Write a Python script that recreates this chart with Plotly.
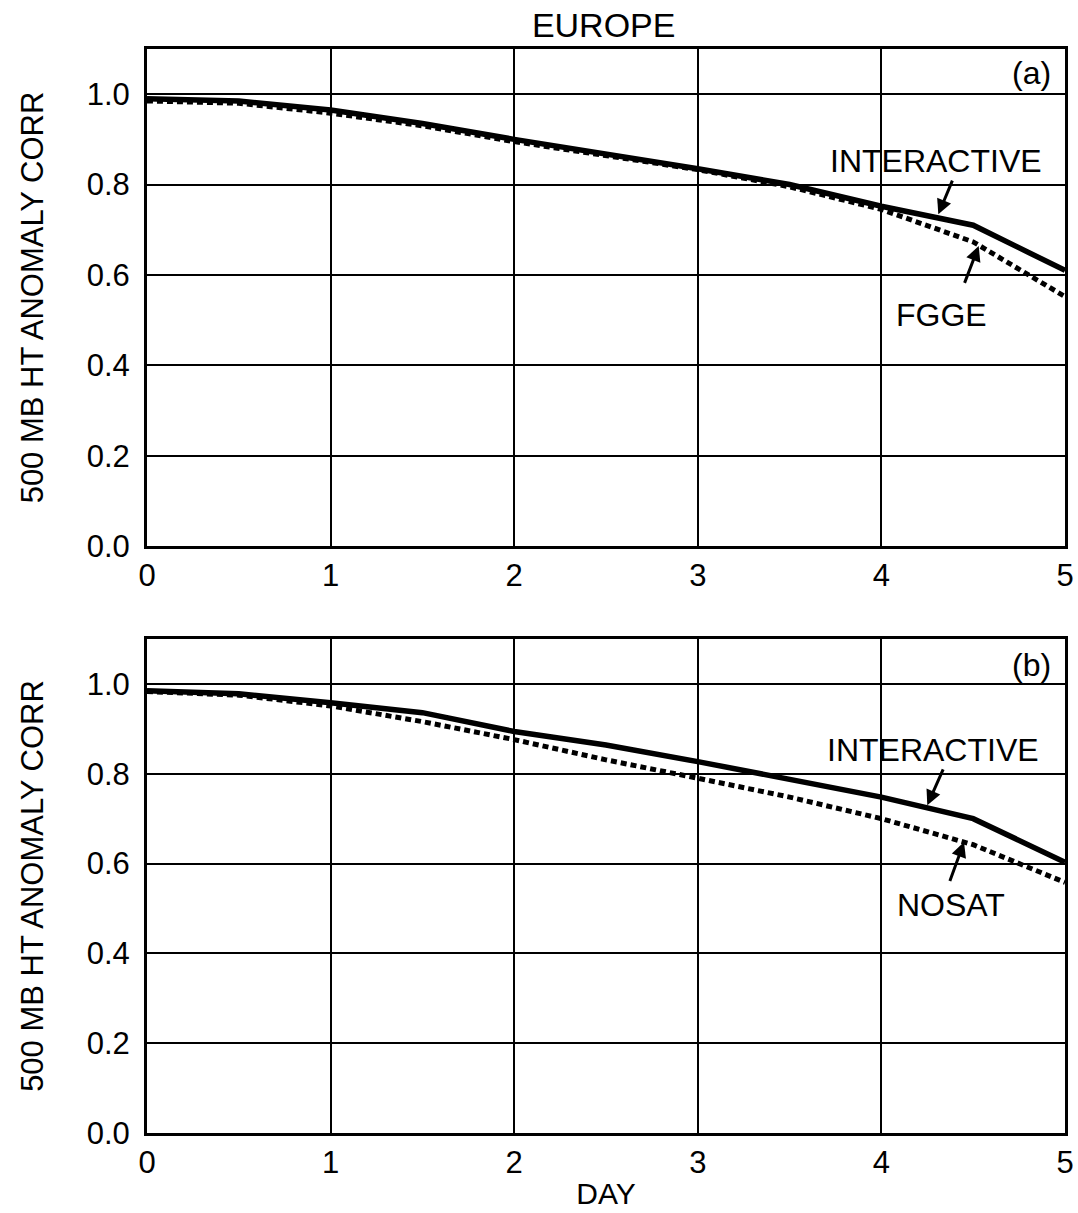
import plotly.graph_objects as go

days = [0, 0.5, 1, 1.5, 2, 2.5, 3, 3.5, 4, 4.5, 5]

# Panel (a)
interactive_a = [0.99, 0.985, 0.965, 0.935, 0.90, 0.868, 0.835, 0.80, 0.752, 0.71, 0.61]
fgge_a = [0.985, 0.98, 0.958, 0.93, 0.895, 0.865, 0.833, 0.795, 0.745, 0.673, 0.552]

# Panel (b)
interactive_b = [0.985, 0.978, 0.958, 0.936, 0.894, 0.864, 0.827, 0.786, 0.748, 0.70, 0.603]
nosat_b = [0.983, 0.975, 0.951, 0.916, 0.876, 0.831, 0.79, 0.748, 0.70, 0.642, 0.558]

y_ticks = [0.0, 0.2, 0.4, 0.6, 0.8, 1.0]
y_tick_labels = ["0.0", "0.2", "0.4", "0.6", "0.8", "1.0"]
x_ticks = [0, 1, 2, 3, 4, 5]

FONT = "Liberation Sans, Arial, sans-serif"

fig = go.Figure()
fig.add_trace(go.Scatter(x=days, y=interactive_a, mode="lines", line=dict(color="black", width=5.5),
                         xaxis="x", yaxis="y", showlegend=False))
fig.add_trace(go.Scatter(x=days, y=fgge_a, mode="lines", line=dict(color="black", width=5, dash="6px,4px"),
                         xaxis="x", yaxis="y", showlegend=False))
fig.add_trace(go.Scatter(x=days, y=interactive_b, mode="lines", line=dict(color="black", width=5.5),
                         xaxis="x2", yaxis="y2", showlegend=False))
fig.add_trace(go.Scatter(x=days, y=nosat_b, mode="lines", line=dict(color="black", width=5, dash="6px,4px"),
                         xaxis="x2", yaxis="y2", showlegend=False))

xcommon = dict(range=[0, 5], tickvals=x_ticks, ticktext=[str(t) for t in x_ticks],
               showgrid=True, gridcolor="black", gridwidth=2,
               showline=True, linecolor="black", linewidth=3, mirror=True,
               ticks="", zeroline=False, automargin=False,
               tickfont=dict(family=FONT, size=31, color="black"))
ycommon = dict(range=[0, 1.1], tickvals=y_ticks, ticktext=y_tick_labels,
               showgrid=True, gridcolor="black", gridwidth=2,
               showline=True, linecolor="black", linewidth=3, mirror=True,
               ticks="", zeroline=False, automargin=False, ticklabelstandoff=8,
               tickfont=dict(family=FONT, size=31, color="black"),
               title=dict(text="500 MB HT ANOMALY CORR", font=dict(family=FONT, size=31, color="black"),
                          standoff=34))

fig.update_layout(
    width=1078, height=1213,
    margin=dict(l=147, r=13, t=49, b=80),
    paper_bgcolor="white", plot_bgcolor="white",
    xaxis=dict(**xcommon, domain=[0, 1], anchor="y"),
    yaxis=dict(**ycommon, domain=[0.5415, 1], anchor="x"),
    xaxis2=dict(**xcommon, domain=[0, 1], anchor="y2",
                title=dict(text="DAY", font=dict(family=FONT, size=30, color="black"), standoff=4)),
    yaxis2=dict(**ycommon, domain=[0, 0.4557], anchor="x2"),
    title=dict(text="EUROPE", x=0.56, xanchor="center", y=0.979, yanchor="middle",
               font=dict(family=FONT, size=34, color="black")),
    showlegend=False,
)

ann_font = dict(family=FONT, size=32, color="black")
annotations = [
    dict(x=4.30, y=0.852, xref="x", yref="y", text="INTERACTIVE", showarrow=False, font=ann_font),
    dict(x=4.31, y=0.734, xref="x", yref="y", ax=4.39, ay=0.812, axref="x", ayref="y",
         showarrow=True, arrowhead=2, arrowsize=1, arrowwidth=3, arrowcolor="black", text=""),
    dict(x=4.33, y=0.512, xref="x", yref="y", text="FGGE", showarrow=False, font=ann_font),
    dict(x=4.53, y=0.664, xref="x", yref="y", ax=4.45, ay=0.579, axref="x", ayref="y",
         showarrow=True, arrowhead=2, arrowsize=1, arrowwidth=3, arrowcolor="black", text=""),
    dict(x=4.82, y=1.046, xref="x", yref="y", text="(a)", showarrow=False, font=ann_font),
    dict(x=4.28, y=0.853, xref="x2", yref="y2", text="INTERACTIVE", showarrow=False, font=ann_font),
    dict(x=4.25, y=0.73, xref="x2", yref="y2", ax=4.34, ay=0.813, axref="x2", ayref="y2",
         showarrow=True, arrowhead=2, arrowsize=1, arrowwidth=3, arrowcolor="black", text=""),
    dict(x=4.38, y=0.507, xref="x2", yref="y2", text="NOSAT", showarrow=False, font=ann_font),
    dict(x=4.45, y=0.648, xref="x2", yref="y2", ax=4.37, ay=0.558, axref="x2", ayref="y2",
         showarrow=True, arrowhead=2, arrowsize=1, arrowwidth=3, arrowcolor="black", text=""),
    dict(x=4.82, y=1.043, xref="x2", yref="y2", text="(b)", showarrow=False, font=ann_font),
]
fig.update_layout(annotations=annotations)

fig.write_html("out.html")
